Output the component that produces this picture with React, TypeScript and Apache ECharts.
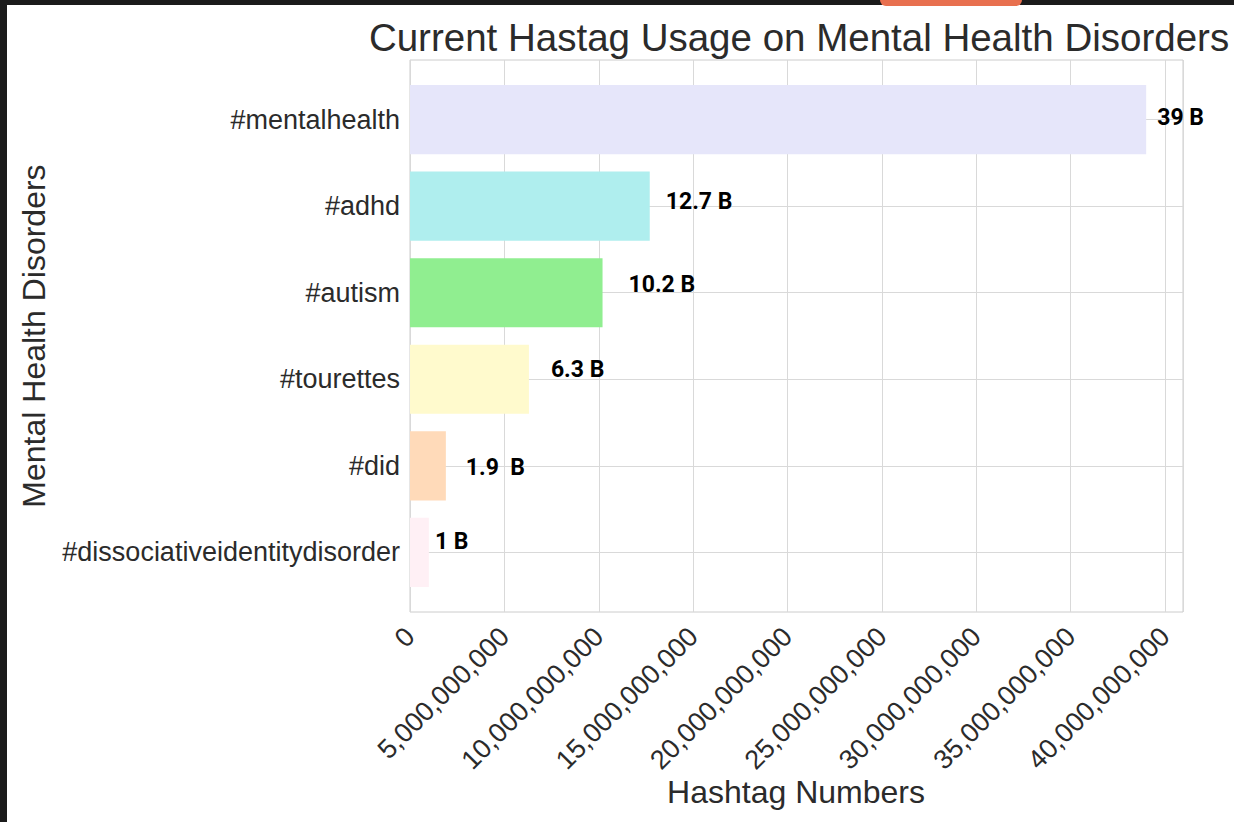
import React, { useEffect, useRef } from "react";
import * as echarts from "echarts";

const categories = [
  "#mentalhealth",
  "#adhd",
  "#autism",
  "#tourettes",
  "#did",
  "#dissociativeidentitydisorder",
];
const values = [39e9, 12.7e9, 10.2e9, 6.3e9, 1.9e9, 1e9];
const valueLabels = ["39 B", "12.7 B", "10.2 B", "6.3 B", "1.9  B", "1 B"];
const barColors = ["#E6E6FA", "#AFEEEE", "#90EE90", "#FFFACD", "#FFDAB9", "#FFF0F5"];
const labelOffsets = [
  [11, -2],
  [16, -5],
  [26, -8],
  [22, -10],
  [20, 2],
  [6, -11],
];
const xMax = 40.95e9;
const xInterval = 5e9;

const TEXT = "#2b2b2b";
const FONT = "'Liberation Sans', Arial, sans-serif";

export default function App() {
  const ref = useRef<HTMLDivElement>(null);
  useEffect(() => {
    document.body.style.margin = "0";
    const chart = echarts.init(ref.current!, null, { renderer: "svg" });
    const top = 60;
    const height = 552;
    const unit = height / 6.38;
    const inset = 0.19 * unit;
    const bottom = 822 - top - height;
    const option: any = {
      animation: false,
      backgroundColor: "#ffffff",
      title: {
        text: "Current Hastag Usage on Mental Health Disorders",
        left: 794,
        top: 13,
        textAlign: "center",
        textStyle: { fontFamily: FONT, fontSize: 38.5, fontWeight: "normal", color: TEXT },
      },
      grid: [
        { left: 410, right: 51, top, bottom, show: true, borderColor: "#cccccc", borderWidth: 1, backgroundColor: "transparent" },
        { left: 410, right: 51, top: top + inset, bottom: bottom + inset },
        { left: 410, right: 51, top: top + 0.69 * unit, bottom: bottom + 0.69 * unit },
      ],
      xAxis: [
        {
          gridIndex: 0,
          type: "value",
          min: 0,
          max: xMax,
          interval: xInterval,
          axisLine: { show: false },
          axisTick: { show: false },
          splitLine: { show: true, lineStyle: { color: "#d9d9d9", width: 1 } },
          axisLabel: {
            rotate: 45,
            margin: 20,
            showMaxLabel: false,
            fontFamily: FONT,
            fontSize: 27,
            color: TEXT,
            formatter: (v: number) => Math.round(v).toLocaleString("en-US"),
          },
        },
        { gridIndex: 1, type: "value", min: 0, max: xMax, show: false },
        { gridIndex: 2, type: "value", min: 0, max: xMax, show: false },
      ],
      yAxis: [
        { gridIndex: 0, type: "value", min: 0, max: 1, show: false, splitLine: { show: false } },
        {
          gridIndex: 1,
          type: "category",
          data: categories,
          inverse: true,
          axisLine: { show: false },
          axisTick: { show: false },
          splitLine: { show: false },
          axisLabel: { fontFamily: FONT, fontSize: 27, color: TEXT, margin: 10 },
        },
        {
          gridIndex: 2,
          type: "value",
          min: 0,
          max: 5,
          interval: 1,
          axisLine: { show: false },
          axisTick: { show: false },
          axisLabel: { show: false },
          splitLine: { show: true, lineStyle: { color: "#d9d9d9", width: 1 } },
        },
      ],
      series: [
        {
          type: "bar",
          xAxisIndex: 1,
          yAxisIndex: 1,
          barCategoryGap: "20%",
          data: values.map((v, i) => ({
            value: v,
            itemStyle: { color: barColors[i] },
            label: {
              show: true,
              position: "right",
              distance: 0,
              offset: labelOffsets[i],
              formatter: valueLabels[i],
              fontFamily: "'Roboto', sans-serif",
              fontWeight: "bold",
              fontSize: 23,
              color: "#000000",
            },
          })),
        },
      ],
      graphic: [
        { type: "rect", shape: { x: 0, y: 0, width: 1234, height: 5 }, style: { fill: "#1b1b1b" }, z: 100 },
        { type: "rect", shape: { x: 0, y: 0, width: 7, height: 822 }, style: { fill: "#1b1b1b" }, z: 100 },
        { type: "rect", shape: { x: 880, y: 0, width: 142, height: 6, r: [0, 0, 6, 6] }, style: { fill: "#E8704F" }, z: 101 },
        {
          type: "text",
          x: 796,
          y: 792,
          style: { text: "Hashtag Numbers", fontFamily: FONT, fontSize: 32, fill: TEXT, textAlign: "center", textVerticalAlign: "middle" },
        },
        {
          type: "text",
          x: 34,
          y: 336,
          rotation: Math.PI / 2,
          style: { text: "Mental Health Disorders", fontFamily: FONT, fontSize: 32, fill: TEXT, textAlign: "center", textVerticalAlign: "middle" },
        },
      ],
    };
    chart.setOption(option);
    return () => chart.dispose();
  }, []);
  return <div ref={ref} style={{ width: 1234, height: 822 }} />;
}
